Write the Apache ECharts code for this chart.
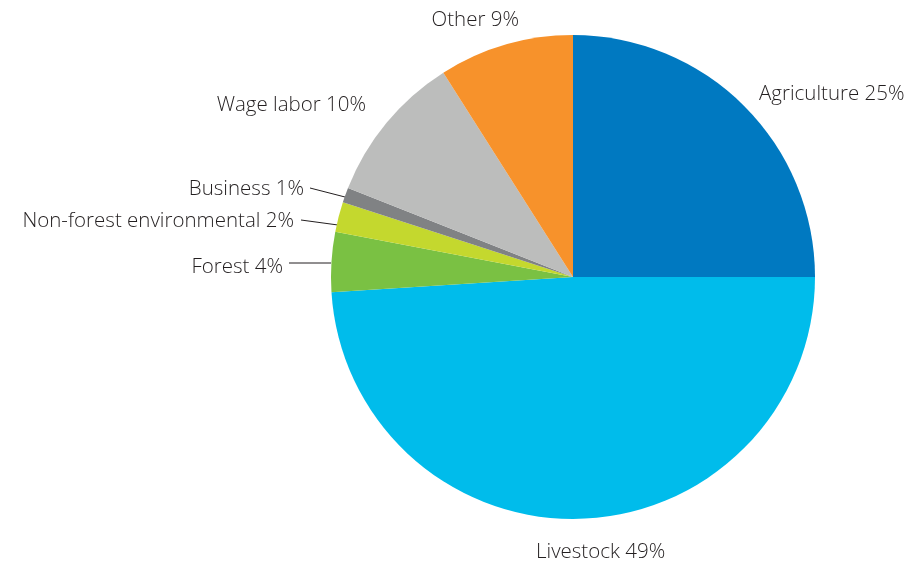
<!DOCTYPE html>
<html>
<head>
<meta charset="utf-8">
<script src="https://cdn.jsdelivr.net/npm/echarts@6/dist/echarts.min.js"></script>
<style>
  html, body { margin: 0; padding: 0; background: #ffffff; }
  #chart { width: 919px; height: 561px; }
</style>
</head>
<body>
<div id="chart"></div>
<script>
// Income sources, share of total (%)
const categories = ['Agriculture', 'Livestock', 'Forest', 'Non-forest environmental', 'Business', 'Wage labor', 'Other'];
const shares = [25, 49, 4, 2, 1, 10, 9];
const colors = ['#0079c1', '#00bceb', '#7ac143', '#c4d82e', '#808284', '#bcbdbc', '#f7922b'];

// Where each label sits, and the leader line for the thin slices
const labelSpots = [
  { x: 759, y: 94, align: 'left' },
  { x: 536, y: 552, align: 'left' },
  { x: 283, y: 267, align: 'right', line: [[331, 263], [289, 263]] },
  { x: 294, y: 221, align: 'right', line: [[338, 225], [301, 220]] },
  { x: 304, y: 189, align: 'right', line: [[345, 197], [310, 188]] },
  { x: 366, y: 105, align: 'right' },
  { x: 519, y: 20, align: 'right' }
];

const chart = echarts.init(document.getElementById('chart'), null, { renderer: 'canvas' });

chart.setOption({
  animation: false,
  series: [{
    type: 'pie',
    center: [573, 277],
    radius: 242,
    startAngle: 90,
    clockwise: true,
    avoidLabelOverlap: false,
    itemStyle: { borderWidth: 0 },
    label: {
      show: true,
      position: 'outside',
      formatter: p => p.name + ' ' + p.value + '%',
      fontFamily: 'Open Sans',
      fontWeight: 300,
      fontSize: 20.5,
      color: '#231f20'
    },
    labelLine: {
      show: true,
      length: 10,
      length2: 10,
      lineStyle: { color: '#231f20', width: 1 }
    },
    labelLayout: function (params) {
      const s = labelSpots[params.dataIndex];
      const out = { x: s.x, y: s.y, align: s.align, verticalAlign: 'middle' };
      if (s.line) out.labelLinePoints = [s.line[0], s.line[1], s.line[1]];
      return out;
    },
    data: categories.map((name, i) => ({
      name: name,
      value: shares[i],
      itemStyle: { color: colors[i] },
      labelLine: { show: !!labelSpots[i].line }
    }))
  }]
});
</script>
</body>
</html>
